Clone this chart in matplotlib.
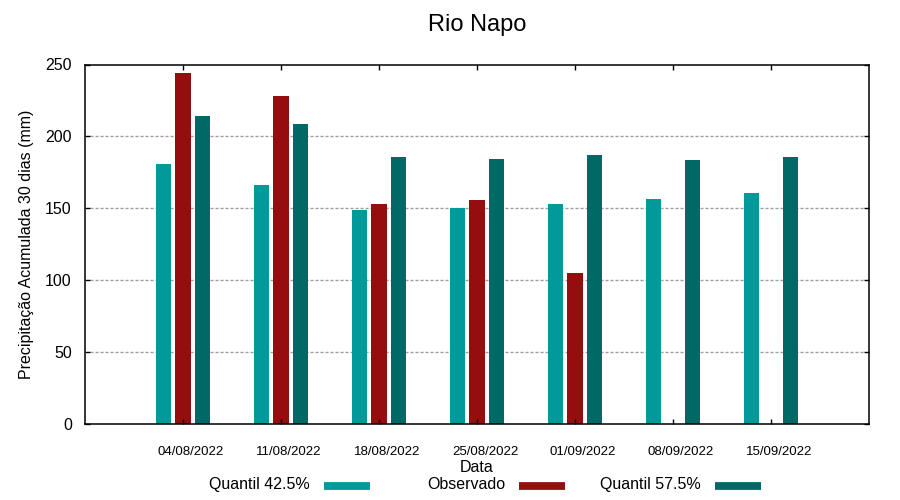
# Rio Napo - precipitation bars (quantis x observado)
import matplotlib
matplotlib.use("Agg")
import matplotlib.pyplot as plt
import matplotlib.transforms as mtransforms
from matplotlib.lines import Line2D
import numpy as np

plt.rcParams['font.family'] = ['Liberation Sans', 'DejaVu Sans']

# data
datas = ["04/08/2022", "11/08/2022", "18/08/2022", "25/08/2022",
         "01/09/2022", "08/09/2022", "15/09/2022"]
quantil_425 = [180.6, 166.4, 148.7, 150.1, 152.9, 156.3, 160.4]
observado = [243.9, 227.9, 152.9, 155.6, 104.7, np.nan, np.nan]
quantil_575 = [214.0, 208.4, 185.4, 184.1, 186.9, 183.4, 185.4]

labels = ["Quantil 42.5%", "Observado", "Quantil 57.5%"]
cores = ["#009A9A", "#940E0E", "#006966"]

fig = plt.figure(figsize=(9, 5), dpi=100)
ax = fig.add_axes([85/900, 1 - 423.5/500, 784/900, 359/500])

x = np.arange(len(datas))
w = 0.16
ax.bar(x - 0.2, quantil_425, w, color=cores[0])
ax.bar(x, observado, w, color=cores[1])
ax.bar(x + 0.2, quantil_575, w, color=cores[2])

ax.set_xlim(-1, 7)
ax.set_ylim(0, 250)
ax.set_yticks([0, 50, 100, 150, 200, 250])
ax.set_xticks(x)
ax.set_xticklabels(datas, fontsize=9.5)

# gnuplot-like grid and ticks
for v in [50, 100, 150, 200]:
    ax.axhline(v, xmin=0.006, xmax=0.994, color="#a0a0a0", lw=1,
               ls=(0, (2.2, 1.4)), zorder=0)
ax.tick_params(axis='y', direction='in', length=3.6, width=1, labelsize=11.5,
               pad=9.5, right=True)
ax.tick_params(axis='x', direction='in', length=3.6, width=1, pad=16.5, top=True)
for s in ax.spines.values():
    s.set_linewidth(1.1)

offset = mtransforms.ScaledTranslation(0.08, 0, fig.dpi_scale_trans)
for lab in ax.get_xticklabels():
    lab.set_transform(lab.get_transform() + offset)

ax.set_ylabel("Precipitação Acumulada 30 dias (mm)", fontsize=11.5, labelpad=8)
ax.set_xlabel("Data", fontsize=11.5, labelpad=1)
ax.set_title("Rio Napo", fontsize=17, pad=24)

# legend in a row under the axis, text first then sample
text_end = [310, 505, 701]
for lab, cor, xe in zip(labels, cores, text_end):
    fig.text(xe/900, 1 - 489/500, lab, ha='right', va='baseline', fontsize=11.5)
    fig.add_artist(Line2D([(xe + 14)/900, (xe + 60)/900], [1 - 485.5/500, 1 - 485.5/500],
                          color=cor, lw=5.6, solid_capstyle='butt',
                          transform=fig.transFigure))

fig.savefig("out.png", dpi=100)
